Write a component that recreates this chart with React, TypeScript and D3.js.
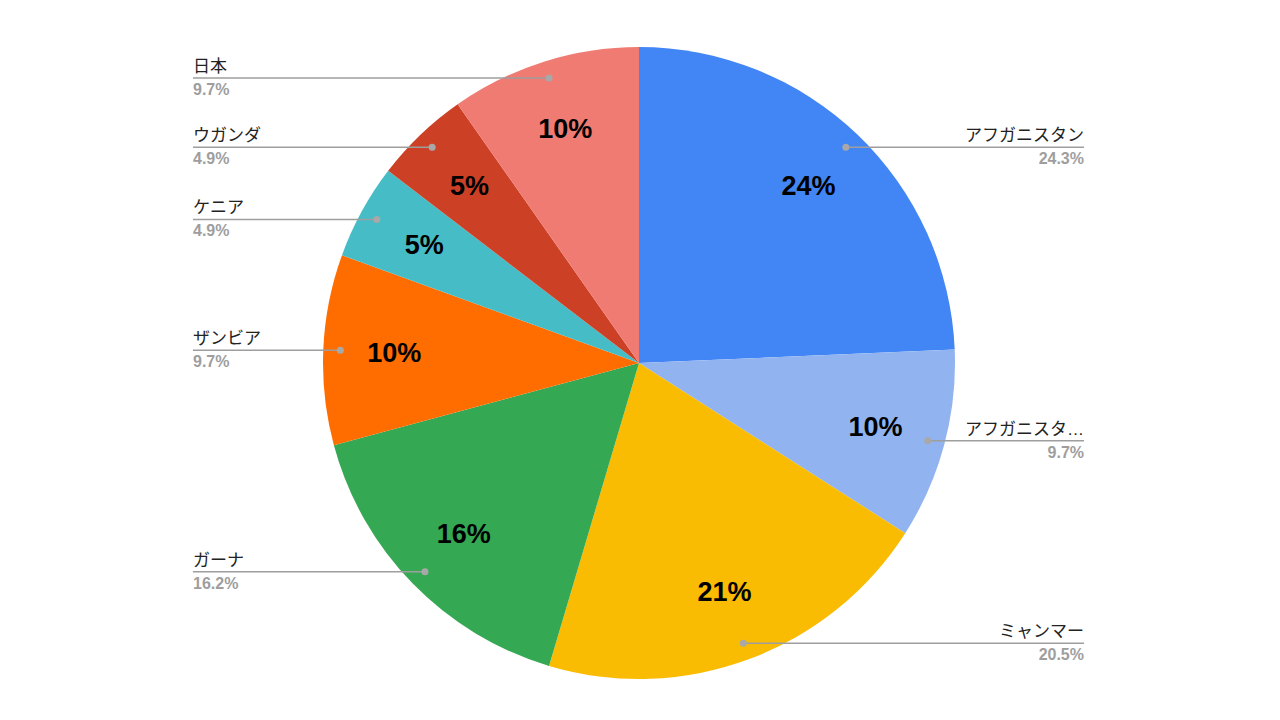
import React from "react";
import * as d3 from "d3";

const categories = ["アフガニスタン", "アフガニスタ…", "ミャンマー", "ガーナ", "ザンビア", "ケニア", "ウガンダ", "日本"];
const values = [45, 18, 38, 30, 18, 9, 9, 18];
const colors = ["#4285f4", "#91b4f0", "#f9bc02", "#34a853", "#ff6d01", "#46bdc6", "#cc4125", "#f07b72"];

const W = 1280, H = 720;
const cx = 639, cy = 363, R = 316;
const leftX = 193, rightX = 1084;
const FONT = "Arial, 'Liberation Sans', 'Noto Sans CJK JP', sans-serif";

export default function App() {
  const total = d3.sum(values);
  const pie = d3.pie<number>().sort(null).value((d) => d)(values);
  const arc = d3.arc<d3.PieArcDatum<number>>().innerRadius(0).outerRadius(R);
  const fmt = d3.format(".1%");
  return (
    <svg width={W} height={H} style={{ position: "absolute", left: 0, top: 0, background: "#fff" }}>
      <g transform={`translate(${cx},${cy})`}>
        {pie.map((p, i) => (
          <path key={i} d={arc(p) || ""} fill={colors[i]} />
        ))}
        {pie.map((p, i) => {
          const a = (p.startAngle + p.endAngle) / 2;
          const r = R * 0.775;
          return (
            <text key={"t" + i} x={Math.sin(a) * r} y={-Math.cos(a) * r} textAnchor="middle" dominantBaseline="central"
              fontFamily={FONT} fontWeight="bold" fontSize={27} fill="#000">
              {Math.round((values[i] / total) * 100) + "%"}
            </text>
          );
        })}
      </g>
      {pie.map((p, i) => {
        const a = (p.startAngle + p.endAngle) / 2;
        const r = R * 0.946;
        const dx = cx + Math.sin(a) * r;
        const dy = cy - Math.cos(a) * r;
        const right = Math.sin(a) > 0;
        const ex = right ? rightX : leftX;
        const anchor = right ? "end" : "start";
        return (
          <g key={"l" + i}>
            <line x1={dx} y1={dy} x2={ex} y2={dy} stroke="#9e9e9e" strokeWidth={1.5} />
            <circle cx={dx} cy={dy} r={3.5} fill="#a8a8a8" />
            <text x={ex} y={dy - 6} textAnchor={anchor} fontFamily={FONT} fontSize={17} fill="#222">
              {categories[i]}
            </text>
            <text x={ex} y={dy + 17} textAnchor={anchor} fontFamily={FONT} fontWeight="bold" fontSize={16} fill="#9e9e9e">
              {fmt(values[i] / total)}
            </text>
          </g>
        );
      })}
    </svg>
  );
}
